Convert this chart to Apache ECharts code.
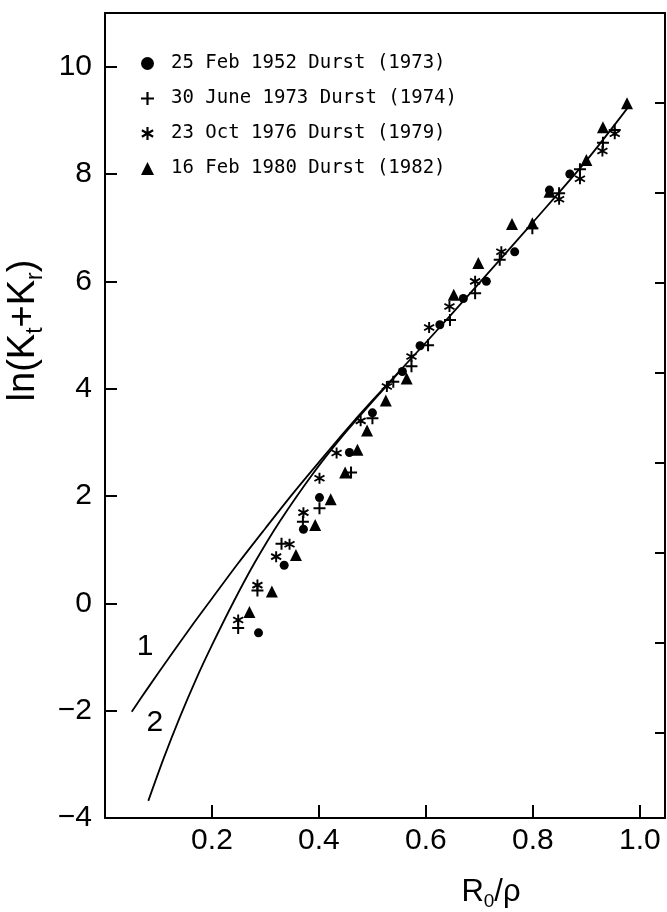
<!DOCTYPE html>
<html><head><meta charset="utf-8">
<script src="https://cdn.jsdelivr.net/npm/echarts@6/dist/echarts.min.js"></script>
<style>html,body{margin:0;padding:0;background:#fff}#c{width:667px;height:912px}</style>
</head><body><div id="c"></div>
<script>
// ---- data ----
const seriesNames = ['25 Feb 1952 Durst (1973)', '30 June 1973 Durst (1974)', '23 Oct 1976 Durst (1979)', '16 Feb 1980 Durst (1982)'];
const xTickValues = [0.2, 0.4, 0.6, 0.8, 1.0];
const xTickLabels = ['0.2', '0.4', '0.6', '0.8', '1.0'];
const yTickValues = [-4, -2, 0, 2, 4, 6, 8, 10];
const yTickLabels = ['\u22124', '\u22122', '0', '2', '4', '6', '8', '10'];

const feb1952 = [[0.287,-0.55],[0.335,0.71],[0.371,1.38],[0.401,1.97],[0.457,2.81],[0.500,3.55],[0.556,4.32],[0.589,4.80],[0.626,5.19],[0.670,5.68],[0.713,6.00],[0.766,6.55],[0.831,7.70],[0.869,8.00]];
const jun1973 = [[0.249,-0.46],[0.285,0.24],[0.330,1.11],[0.370,1.52],[0.401,1.77],[0.460,2.44],[0.500,3.45],[0.539,4.13],[0.573,4.42],[0.604,4.81],[0.645,5.28],[0.692,5.78],[0.738,6.40],[0.799,6.99],[0.849,7.64],[0.888,8.09],[0.931,8.58],[0.953,8.82]];
const oct1976 = [[0.249,-0.31],[0.285,0.34],[0.320,0.87],[0.345,1.10],[0.371,1.69],[0.401,2.33],[0.433,2.80],[0.478,3.40],[0.527,4.04],[0.573,4.60],[0.606,5.14],[0.644,5.53],[0.692,6.00],[0.741,6.55],[0.849,7.53],[0.888,7.91],[0.930,8.43],[0.953,8.75]];
const feb1980 = [[0.270,-0.16],[0.312,0.22],[0.357,0.90],[0.393,1.46],[0.422,1.94],[0.449,2.44],[0.472,2.86],[0.490,3.22],[0.525,3.78],[0.564,4.19],[0.652,5.75],[0.698,6.34],[0.761,7.07],[0.799,7.08],[0.831,7.67],[0.900,8.26],[0.931,8.87],[0.976,9.32]];

const curve1 = [[0.05,-2.02],[0.08,-1.58],[0.12,-1.01],[0.16,-0.45],[0.2,0.09],[0.25,0.76],[0.3,1.40],[0.35,2.03],[0.4,2.63],[0.45,3.22],[0.5,3.78],[0.6,4.86],[0.7,5.97],[0.8,7.10],[0.9,8.25],[0.98,9.27]];
const curve2 = [[0.081,-3.68],[0.11,-2.88],[0.14,-2.12],[0.17,-1.42],[0.2,-0.78],[0.24,0.02],[0.28,0.76],[0.327,1.53],[0.389,2.42],[0.44,3.07],[0.5,3.76],[0.55,4.31]];
const curveLabels = [[0.075,-0.81,'1'],[0.093,-2.23,'2']];

// ---- symbols ----
const plusPath = 'path://M5 0 H7 V5 H12 V7 H7 V12 H5 V7 H0 V5 H5 Z';
const starPath = 'path://M5 0 L7 0 L7 12 L5 12 Z M0.304 3.866 L1.304 2.134 L11.696 8.134 L10.696 9.866 Z M10.696 2.134 L11.696 3.866 L1.304 9.866 L0.304 8.134 Z';

const black = '#000';
const axisFont = 'Liberation Sans';

function scatter(name, data, symbol, size) {
  return { type: 'scatter', name, data, symbol, symbolSize: size,
    itemStyle: { color: black, opacity: 1 }, silent: true, z: 3 };
}
function curve(data) {
  return { type: 'line', data, showSymbol: false, smooth: 0.3,
    lineStyle: { color: black, width: 1.8 }, silent: true, z: 2 };
}

const chart = echarts.init(document.getElementById('c'), null, { renderer: 'canvas' });
chart.setOption({
  animation: false,
  backgroundColor: '#fff',
  grid: { left: 105, right: 2, top: 13, bottom: 94, show: false, containLabel: false, outerBoundsMode: 'none' },
  legend: {
    data: seriesNames,
    orient: 'vertical', left: 136, top: 49,
    itemWidth: 13, itemHeight: 13, itemGap: 16,
    textStyle: { fontFamily: 'DejaVu Sans Mono', fontSize: 19, color: black, lineHeight: 19, padding: [0, 0, 0, 12] },
    selectedMode: false
  },
  xAxis: [{
    type: 'value', min: 0, max: 1.047, interval: 0.2, position: 'bottom',
    axisLine: { show: true, onZero: false, lineStyle: { color: black, width: 2 } },
    axisTick: { show: true, inside: true, length: 13, lineStyle: { color: black, width: 2 } },
    axisLabel: { margin: 8, fontSize: 30, fontFamily: axisFont, color: black,
      formatter: v => { const i = xTickValues.findIndex(t => Math.abs(t - v) < 1e-6); return i < 0 ? '' : xTickLabels[i]; } },
    splitLine: { show: false },
    name: '{a|R}{b|0}{a|/\u03c1}', nameLocation: 'middle', nameGap: 56,
    nameTextStyle: { padding: [0, 0, 0, 212], rich: {
      a: { fontSize: 31, fontFamily: axisFont, color: black },
      b: { fontSize: 19, fontFamily: axisFont, color: black, padding: [18, 0, 0, 0] } } }
  }, {
    type: 'value', min: 0, max: 1.047, position: 'top',
    axisLine: { show: true, onZero: false, lineStyle: { color: black, width: 2 } },
    axisTick: { show: false }, axisLabel: { show: false }, splitLine: { show: false }
  }],
  yAxis: [{
    type: 'value', min: -4, max: 11, interval: 2, position: 'left',
    axisLine: { show: true, onZero: false, lineStyle: { color: black, width: 2 } },
    axisTick: { show: true, inside: true, length: 12, lineStyle: { color: black, width: 2 } },
    axisLabel: { margin: 13, fontSize: 30, fontFamily: axisFont, color: black,
      formatter: v => { const i = yTickValues.indexOf(Math.round(v)); return i < 0 ? '' : yTickLabels[i]; } },
    splitLine: { show: false },
    name: '{a|ln(K}{b|t}{a|+K}{b|r}{a|)}', nameLocation: 'middle', nameGap: 48, nameRotate: 90,
    nameTextStyle: { padding: [0, 0, 0, 170], rich: {
      a: { fontSize: 38, fontFamily: axisFont, color: black },
      b: { fontSize: 23, fontFamily: axisFont, color: black, padding: [24, 0, 0, 0] } } }
  }, {
    type: 'value', position: 'right', inverse: true, min: 0, max: 8.944, interval: 1,
    axisLine: { show: true, onZero: false, lineStyle: { color: black, width: 2 } },
    axisTick: { show: true, inside: true, length: 10, lineStyle: { color: black, width: 2 } },
    axisLabel: { show: false }, splitLine: { show: false }
  }],
  series: [
    curve(curve1),
    curve(curve2),
    scatter(seriesNames[0], feb1952, 'circle', 9),
    scatter(seriesNames[1], jun1973, plusPath, 12),
    scatter(seriesNames[2], oct1976, starPath, 11),
    scatter(seriesNames[3], feb1980, 'triangle', 12),
    { type: 'scatter', data: curveLabels, symbolSize: 0, silent: true, itemStyle: { color: black, opacity: 1 },
      label: { show: true, position: 'inside', formatter: p => p.data[2], fontSize: 30, fontFamily: axisFont,
        color: black, opacity: 1, textBorderWidth: 0, textBorderColor: 'transparent' } }
  ]
});
</script>
</body></html>
